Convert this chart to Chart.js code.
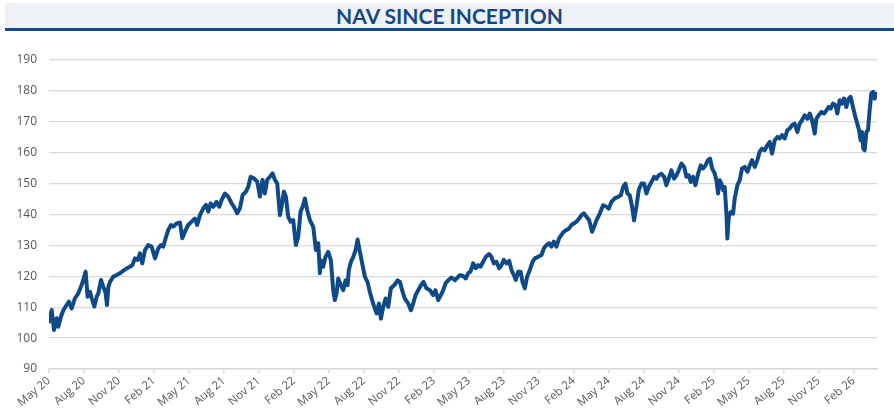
<!DOCTYPE html>
<html>
<head>
<meta charset="utf-8">
<script src="https://cdn.jsdelivr.net/npm/chart.js@4.4.1/dist/chart.umd.min.js"></script>
<style>
  html, body { margin: 0; padding: 0; background: #fff; }
  #wrap { position: relative; width: 894px; height: 416px; overflow: hidden; }
  #title {
    position: absolute; left: 5px; top: 3px; width: 889px; height: 25px;
    background: #EEF1F5; border-bottom: 3px solid #104C8A;
    text-align: center; line-height: 26px;
    font-family: Lato, "Open Sans", sans-serif; font-weight: bold; font-size: 21px;
    color: #17477F;
  }
  canvas { position: absolute; left: 0; top: 0; }
</style>
</head>
<body>
<div id="wrap">
  <div id="title">NAV SINCE INCEPTION</div>
  <canvas id="navChart" width="894" height="416"></canvas>
</div>
<script>
// months since May 2020 for each NAV reading
const navMonths = [
  0, 0.23, 0.43, 0.66, 0.80, 1.03, 1.23, 1.51, 1.71, 1.94, 2.23, 2.51, 2.74, 2.94, 3.14,
  3.31, 3.51, 3.66, 3.89, 4.09, 4.23, 4.46, 4.66, 4.86, 4.97, 5.09, 5.23, 5.51, 5.80, 6.09,
  6.37, 6.66, 6.94, 7.14, 7.37, 7.60, 7.80, 8.00, 8.23, 8.51, 8.80, 9.09, 9.37, 9.60, 9.80,
  10.00, 10.23, 10.46, 10.66, 10.94, 11.23, 11.43, 11.66,
  11.94, 12.23, 12.51, 12.71, 12.94, 13.23, 13.46, 13.66, 13.86, 14.09, 14.37, 14.60, 14.80,
  15.09, 15.37, 15.66, 15.86, 16.14, 16.37, 16.60, 16.89, 17.09, 17.29, 17.57, 17.86, 18.09,
  18.31, 18.51, 18.71, 18.94, 19.17, 19.37, 19.57, 19.80, 19.94, 20.14, 20.31, 20.51, 20.71,
  20.94, 21.17, 21.37, 21.57, 21.80, 21.94, 22.14, 22.37, 22.66, 22.89, 23.09, 23.23,
  23.31, 23.51, 23.71, 23.94, 24.17, 24.37, 24.51, 24.66, 24.80, 25.03, 25.23, 25.43, 25.60,
  25.71, 25.89, 26.09, 26.29, 26.46, 26.66, 26.86, 27.09, 27.31, 27.51, 27.71, 27.89, 28.09,
  28.29, 28.46, 28.66, 28.86, 29.09, 29.31, 29.60, 29.89, 30.09, 30.28, 30.51, 30.80, 31.03,
  31.23, 31.43, 31.66, 31.89, 32.11, 32.37, 32.66, 32.94, 33.14, 33.37, 33.60, 33.80, 34.00,
  34.23, 34.51, 34.80,
  35.23, 35.51, 35.74, 35.94, 36.14, 36.37, 36.60, 36.80, 37.00, 37.23, 37.46, 37.74, 37.94,
  38.14, 38.37, 38.60, 38.80, 39.00, 39.23, 39.46, 39.66, 39.86, 40.03, 40.23, 40.43, 40.60,
  40.80, 41.00, 41.23, 41.46, 41.66, 41.94, 42.23, 42.43, 42.66, 42.89, 43.09, 43.29, 43.51,
  43.74, 43.94, 44.14, 44.37, 44.60, 44.80, 45.00, 45.23, 45.46, 45.66, 45.86, 46.09, 46.31,
  46.57, 46.74, 46.94, 47.23, 47.51, 47.80, 48.00, 48.23, 48.51, 48.80, 49.03, 49.23, 49.43,
  49.60, 49.80, 50.00, 50.17, 50.37, 50.57, 50.80, 51.03, 51.23, 51.43, 51.66, 51.89, 52.09,
  52.29, 52.51, 52.74, 52.94, 53.14, 53.37, 53.60, 53.80, 54.00, 54.23, 54.46, 54.66, 54.86,
  55.03, 55.23, 55.43, 55.66, 55.89, 56.09, 56.29, 56.51, 56.69, 56.86, 57.09, 57.23, 57.37,
  57.51, 57.66, 57.80, 57.94, 58.09, 58.17,
  58.29, 58.46, 58.66, 58.80, 59.03, 59.23, 59.43, 59.66, 59.89, 60.09, 60.29, 60.51, 60.74,
  60.94, 61.14, 61.37, 61.60, 61.80, 62.00, 62.23, 62.46, 62.66, 62.86, 63.09, 63.31, 63.51,
  63.71, 63.94, 64.17, 64.37, 64.57, 64.80, 65.03, 65.23, 65.43, 65.66, 65.80, 66.00, 66.23,
  66.46, 66.66, 66.86, 67.03, 67.23, 67.43, 67.60, 67.80, 68.00, 68.17, 68.37, 68.57, 68.74,
  68.94, 69.14, 69.31, 69.46, 69.60, 69.71, 69.83, 69.94, 70.09, 70.23, 70.37, 70.51, 70.66,
  70.80, 70.94, 71.00
];

const navValues = [
  105.3, 109.1, 102.6, 106.4, 103.7, 107, 109, 110.7, 111.8, 109.6, 112.9, 114.5, 116.6, 118.8, 121.5,
  113.4, 115, 112.9, 110.2, 113.4, 114.5, 118.8, 116.6, 114.5, 110.7, 116.6, 118.2, 119.9, 120.4, 121,
  121.8, 122.6, 123.1, 123.6, 125.8, 125.3, 127.4, 124.2, 128.5, 130.1, 129.6, 125.8, 129, 130.1, 129.6,
  132.3, 135, 136.6, 136.1, 137.1, 137.4, 132.3, 134.5,
  136.6, 137.7, 138.7, 136.6, 139.8, 142, 143.1, 140.9, 143.6, 142.5, 144.1, 142.5, 144.7,
  146.8, 145.8, 143.6, 142.5, 140.4, 142, 146.3, 147.4, 149, 152.2, 151.7, 150.6, 145.8,
  151.2, 146.8, 151.2, 152.2, 153.3, 151.2, 150.1, 139.8, 142.5, 147.4, 145.8, 139.3, 137.7,
  138.2, 130.1, 132.8, 140.9, 143.1, 145.2, 141.4, 138.2, 136, 128.5, 130.7, 121,
  125.2, 123.1, 126.3, 127.9, 125.2, 115.5, 112.3, 114.4, 119.3, 117.1, 115.5, 118.7, 117.1,
  122, 124.7, 126.3, 128.5, 131.9, 127.9, 124.1, 119.8, 118.2, 115, 112.3, 110.1, 108,
  111.2, 106.3, 110.1, 112.8, 110.1, 116.1, 117.1, 118.7, 118.2, 115.5, 112.8, 111.2, 109,
  111.2, 113.9, 115.5, 117.1, 118.2, 116.1, 115.5, 113.9, 115.5, 112.3, 113.9, 115.5, 117.7,
  118.7, 119.6, 118.7,
  120.4, 120.1, 119.3, 121, 121.5, 124.2, 122.6, 123.6, 123.1, 124.7, 126.3, 127.2, 126.3,
  124.2, 124.7, 122.6, 123.6, 125.3, 124.2, 125, 122, 120.4, 118.8, 121.5, 121.5, 118.2,
  116.1, 119.9, 122, 124.7, 125.8, 126.3, 126.9, 129, 130.1, 130.7, 129.6, 131.2, 129.6,
  132.3, 133.4, 134.4, 135, 135.5, 136.6, 137.1, 137.7, 138.7, 139.8, 140.4, 139.3, 138.2,
  134.4, 136, 138.1, 140.3, 143, 142.5, 141.9, 144.1, 145.2, 145.7, 146.2, 148.9, 150,
  146.8, 146.2, 142.5, 138.1, 142.5, 147.9, 150, 150, 146.8, 148.9, 150.5, 152.2, 151.6,
  152.7, 153.2, 152.2, 149.5, 151.6, 154.3, 151.6, 152.7, 154.3, 156.5, 155.4, 152.2, 152.7,
  150.5, 152.2, 149.5, 153.2, 155.9, 154.9, 155.9, 157.6, 158.1, 154.9, 153.2, 151.1, 146.8,
  151.1, 150, 147.9, 148.9, 140.3, 132.2,
  139.2, 140.8, 140.3, 145.2, 149.5, 151.1, 154.9, 155.4, 153.8, 155.9, 157.6, 155.4, 157.6,
  160.3, 161.3, 160.8, 162.4, 163.5, 159.7, 164, 165.1, 164.6, 165.7, 164.6, 167.3, 167.8,
  168.9, 169.4, 166.7, 169.4, 170.5, 172.1, 171, 172.7, 170.5, 166.2, 171, 172.1, 173.2,
  172.7, 173.7, 174.8, 174.3, 175.9, 175.4, 172.7, 177, 175.9, 177.5, 174.8, 177.5, 178.1,
  174.8, 171.6, 169.4, 167.3, 164, 166.7, 161.3, 160.8, 166.7, 167.3, 173.7, 179.1, 179.7,
  177.5, 179.1, 178.6
];

const tickMonths = [0, 3, 6, 9, 12, 15, 18, 21, 24, 27, 30, 33, 36, 39, 42, 45, 48, 51, 54, 57, 60, 63, 66, 69];
const tickLabels = [
  "May 20", "Aug 20", "Nov 20", "Feb 21", "May 21", "Aug 21", "Nov 21", "Feb 22",
  "May 22", "Aug 22", "Nov 22", "Feb 23", "May 23", "Aug 23", "Nov 23", "Feb 24",
  "May 24", "Aug 24", "Nov 24", "Feb 25", "May 25", "Aug 25", "Nov 25", "Feb 26"
];

const n = Math.min(navMonths.length, navValues.length);
if (navMonths.length !== navValues.length) console.warn("length mismatch", navMonths.length, navValues.length);
const points = [];
for (let i = 0; i < n; i++) {
  points.push({ x: navMonths[i], y: navValues[i] });
}

const gridColor = "#D9D9D9";

new Chart(document.getElementById("navChart"), {
  type: "line",
  data: {
    datasets: [
      {
        label: "NAV",
        data: points,
        borderColor: "#0E4A87",
        borderWidth: 4,
        pointRadius: 0,
        tension: 0,
        borderJoinStyle: "round",
        borderCapStyle: "round",
      },
    ],
  },
  options: {
    responsive: false,
    animation: false,
    layout: { padding: { top: 60, right: 17, left: 0, bottom: 0 } },
    plugins: {
      legend: { display: false },
      tooltip: { enabled: false },
    },
    scales: {
      x: {
        type: "linear",
        min: 0,
        max: 71,
        afterBuildTicks: (scale) => {
          scale.ticks = tickMonths.map((v) => ({ value: v }));
        },
        afterFit: (scale) => {
          scale.height = 47;
        },
        ticks: {
          callback: (value, index) => tickLabels[index],
          minRotation: 40,
          maxRotation: 40,
          autoSkip: false,
          font: { family: "'Open Sans', sans-serif", size: 11.5 },
          color: "#595959",
          padding: 1,
        },
        grid: {
          drawOnChartArea: false,
          drawTicks: true,
          tickLength: 4,
          color: gridColor,
          lineWidth: 1.5,
        },
        border: { display: true, color: gridColor, width: 1.5 },
      },
      y: {
        min: 90,
        max: 190,
        afterFit: (scale) => {
          scale.width = 49;
        },
        ticks: {
          stepSize: 10,
          font: { family: "'Open Sans', sans-serif", size: 12 },
          color: "#595959",
          padding: 12,
        },
        grid: { color: gridColor, lineWidth: 1.3, drawTicks: false },
        border: { display: false },
      },
    },
  },
});
</script>
</body>
</html>
